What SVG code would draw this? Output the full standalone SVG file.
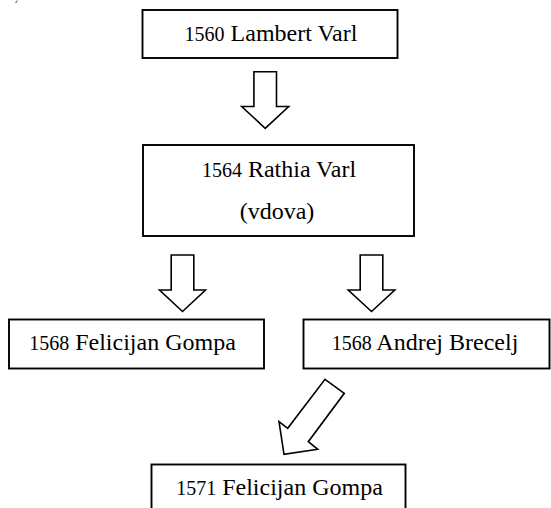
<svg xmlns="http://www.w3.org/2000/svg" width="551" height="508" viewBox="0 0 551 508">
<style>
.box{fill:#fff;stroke:#000;stroke-width:1.9}
.arr{fill:#fff;stroke:#000;stroke-width:1.6;stroke-linejoin:miter}
.lbl{font-family:'Liberation Serif','Times New Roman',serif;fill:#000;text-anchor:middle}
.n{font-size:20px}
.t{font-size:24px}
</style>
<rect width="551" height="508" fill="#fff"/>
<path d="M17.5,0.5 L15.5,3" stroke="#666" stroke-width="1.2" fill="none"/>
<g id="connectors">
<polygon class="arr" points="253.9,71.7 276.5,71.7 276.5,106.5 288.7,106.5 265.2,128.3 241.7,106.5 253.9,106.5"/>
<polygon class="arr" points="171.2,255 193.8,255 193.8,290 205.5,290 182.5,311.5 159.5,290 171.2,290"/>
<polygon class="arr" points="360.2,255 382.8,255 382.8,290 394.8,290 371.5,311.5 348.2,290 360.2,290"/>
<polygon class="arr" points="325,379.3 344.3,393.3 308.3,441.7 317.7,449.3 284,454.3 279,421.7 287.7,428.3"/>
</g>
<g id="n1560">
<rect class="box" x="142.5" y="10" width="255" height="48"/>
<text class="lbl" x="271" y="40.5"><tspan class="n">1560</tspan><tspan class="t"> Lambert Varl</tspan></text>
</g>
<g id="n1564">
<rect class="box" x="143" y="145" width="271" height="91"/>
<text class="lbl" x="279" y="177"><tspan class="n">1564</tspan><tspan class="t"> Rathia Varl</tspan></text>
<text class="lbl t" x="277" y="219">(vdova)</text>
</g>
<g id="n1568a">
<rect class="box" x="9" y="319.5" width="255" height="49"/>
<text class="lbl" x="132.5" y="350"><tspan class="n">1568</tspan><tspan class="t"> Felicijan Gompa</tspan></text>
</g>
<g id="n1568b">
<rect class="box" x="303.5" y="319.5" width="246" height="49"/>
<text class="lbl" x="425" y="350"><tspan class="n">1568</tspan><tspan class="t"> Andrej Brecelj</tspan></text>
</g>
<g id="n1571">
<rect class="box" x="151.5" y="464.5" width="254" height="50"/>
<text class="lbl" x="279.5" y="495"><tspan class="n">1571</tspan><tspan class="t"> Felicijan Gompa</tspan></text>
</g>
</svg>
